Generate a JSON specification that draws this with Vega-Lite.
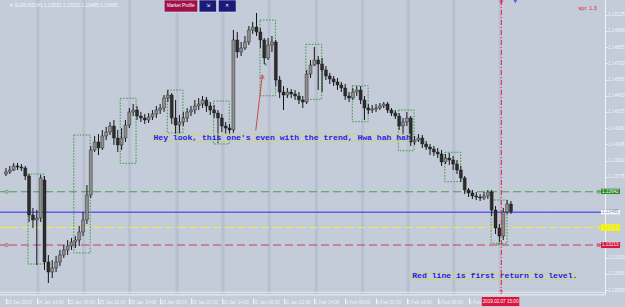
{
  "$schema": "https://vega.github.io/schema/vega-lite/v6.json",
  "width": 605,
  "height": 294,
  "autosize": "none",
  "padding": {"left": 0, "top": 0, "right": 20, "bottom": 13},
  "background": "#c4cbd9",
  "config": {
    "view": {"stroke": null},
    "font": "Liberation Sans",
    "axis": {"titleOpacity": 0, "labelOverlap": false, "labelSeparation": 0, "labelBound": false, "labelFlush": false, "grid": false, "labelFont": "Liberation Sans", "tickCount": 40},
    "axisX": {"labelAlign": "left", "labelFontSize": 4.6, "labelColor": "#f2f4f8", "tickColor": "#f2f4f8", "tickSize": 6, "offset": 4, "domain": false, "labelPadding": -5, "labelDx": 1.5},
    "axisY": {"labelFontSize": 4.6, "labelColor": "#f2f4f8", "tickColor": "#f2f4f8", "tickSize": 2, "domainColor": "#f2f4f8", "labelPadding": 0.5}
  },
  "datasets": {
    "bands": [
      {"b": 15.8, "e": 17.4}, {"b": 39.6, "e": 41.2}, {"b": 63.4, "e": 65.0}, {"b": 88.0, "e": 89.6},
      {"b": 111.8, "e": 113.4}, {"b": 135.8, "e": 137.4}, {"b": 160.2, "e": 161.8}, {"b": 184.2, "e": 185.8},
      {"b": 207.9, "e": 209.5}, {"b": 231.6, "e": 233.2}, {"b": 255.6, "e": 257.2}
    ],
    "levels": [
      {"k": "green", "p": 1.13650, "b1": 1.13676, "b2": 1.13631, "t": "1.13642"},
      {"k": "blue", "p": 1.13480, "b1": 1.13498, "b2": 1.13462, "t": "1.13485"},
      {"k": "yellow", "p": 1.13352, "b1": 1.13381, "b2": 1.13323, "t": "1.13352"},
      {"k": "red", "p": 1.13206, "b1": 1.13231, "b2": 1.13181, "t": "1.13213"}
    ],
    "boxes": [
      {"x1": 11.4, "x2": 19.5, "y1": 1.13798, "y2": 1.13048},
      {"x1": 35.2, "x2": 43.7, "y1": 1.14123, "y2": 1.13140},
      {"x1": 59.3, "x2": 67.5, "y1": 1.14429, "y2": 1.13887},
      {"x1": 83.7, "x2": 91.8, "y1": 1.14498, "y2": 1.14140},
      {"x1": 107.7, "x2": 115.8, "y1": 1.14406, "y2": 1.14048},
      {"x1": 131.8, "x2": 139.8, "y1": 1.15081, "y2": 1.14450},
      {"x1": 155.6, "x2": 163.8, "y1": 1.14879, "y2": 1.14420},
      {"x1": 179.7, "x2": 187.9, "y1": 1.14534, "y2": 1.14234},
      {"x1": 203.6, "x2": 211.7, "y1": 1.14331, "y2": 1.13992},
      {"x1": 227.7, "x2": 235.9, "y1": 1.13979, "y2": 1.13734},
      {"x1": 251.7, "x2": 260.0, "y1": 1.13581, "y2": 1.13220}
    ],
    "candles": [
      {"i":0,"o":1.13798,"h":1.13848,"l":1.13781,"c":1.13815},
      {"i":2,"o":1.13815,"h":1.13865,"l":1.13798,"c":1.13831},
      {"i":4,"o":1.13831,"h":1.13890,"l":1.13823,"c":1.13865},
      {"i":6,"o":1.13865,"h":1.13890,"l":1.13831,"c":1.13856},
      {"i":8,"o":1.13856,"h":1.13881,"l":1.13823,"c":1.13848},
      {"i":10,"o":1.13848,"h":1.13865,"l":1.13748,"c":1.13781},
      {"i":12,"o":1.13781,"h":1.13798,"l":1.13398,"c":1.13456},
      {"i":14,"o":1.13456,"h":1.13515,"l":1.13348,"c":1.13415},
      {"i":16,"o":1.13415,"h":1.13498,"l":1.13040,"c":1.13431},
      {"i":18,"o":1.13431,"h":1.13790,"l":1.13398,"c":1.13765},
      {"i":20,"o":1.13748,"h":1.13781,"l":1.12998,"c":1.13065},
      {"i":22,"o":1.13065,"h":1.13123,"l":1.12890,"c":1.12981},
      {"i":24,"o":1.12981,"h":1.13081,"l":1.12931,"c":1.13015},
      {"i":26,"o":1.13015,"h":1.13115,"l":1.12981,"c":1.13065},
      {"i":28,"o":1.13065,"h":1.13165,"l":1.13031,"c":1.13123},
      {"i":30,"o":1.13123,"h":1.13206,"l":1.13098,"c":1.13165},
      {"i":32,"o":1.13165,"h":1.13248,"l":1.13123,"c":1.13198},
      {"i":34,"o":1.13198,"h":1.13265,"l":1.13165,"c":1.13231},
      {"i":36,"o":1.13231,"h":1.13281,"l":1.13181,"c":1.13248},
      {"i":38,"o":1.13248,"h":1.13365,"l":1.13198,"c":1.13315},
      {"i":40,"o":1.13315,"h":1.13481,"l":1.13281,"c":1.13415},
      {"i":42,"o":1.13415,"h":1.13706,"l":1.13381,"c":1.13623},
      {"i":44,"o":1.13623,"h":1.14031,"l":1.13598,"c":1.13998},
      {"i":46,"o":1.13998,"h":1.14115,"l":1.13981,"c":1.14065},
      {"i":48,"o":1.14065,"h":1.14131,"l":1.13956,"c":1.14015},
      {"i":50,"o":1.14015,"h":1.14165,"l":1.13998,"c":1.14115},
      {"i":52,"o":1.14115,"h":1.14190,"l":1.14081,"c":1.14148},
      {"i":54,"o":1.14148,"h":1.14231,"l":1.14123,"c":1.14198},
      {"i":56,"o":1.14198,"h":1.14248,"l":1.14040,"c":1.14098},
      {"i":58,"o":1.14098,"h":1.14165,"l":1.13981,"c":1.14040},
      {"i":60,"o":1.14040,"h":1.14181,"l":1.13998,"c":1.14098},
      {"i":62,"o":1.14098,"h":1.14248,"l":1.14065,"c":1.14206},
      {"i":64,"o":1.14206,"h":1.14348,"l":1.14181,"c":1.14315},
      {"i":66,"o":1.14315,"h":1.14381,"l":1.14281,"c":1.14331},
      {"i":68,"o":1.14331,"h":1.14365,"l":1.14248,"c":1.14281},
      {"i":70,"o":1.14281,"h":1.14315,"l":1.14231,"c":1.14265},
      {"i":72,"o":1.14265,"h":1.14298,"l":1.14215,"c":1.14248},
      {"i":74,"o":1.14248,"h":1.14306,"l":1.14223,"c":1.14273},
      {"i":76,"o":1.14273,"h":1.14331,"l":1.14248,"c":1.14298},
      {"i":78,"o":1.14298,"h":1.14365,"l":1.14265,"c":1.14331},
      {"i":80,"o":1.14331,"h":1.14381,"l":1.14298,"c":1.14348},
      {"i":82,"o":1.14348,"h":1.14456,"l":1.14315,"c":1.14431},
      {"i":84,"o":1.14431,"h":1.14498,"l":1.14398,"c":1.14456},
      {"i":86,"o":1.14456,"h":1.14473,"l":1.14215,"c":1.14265},
      {"i":88,"o":1.14265,"h":1.14415,"l":1.14131,"c":1.14206},
      {"i":90,"o":1.14206,"h":1.14290,"l":1.14140,"c":1.14231},
      {"i":92,"o":1.14231,"h":1.14315,"l":1.14198,"c":1.14265},
      {"i":94,"o":1.14265,"h":1.14348,"l":1.14231,"c":1.14315},
      {"i":96,"o":1.14315,"h":1.14365,"l":1.14281,"c":1.14331},
      {"i":98,"o":1.14331,"h":1.14415,"l":1.14298,"c":1.14365},
      {"i":100,"o":1.14365,"h":1.14431,"l":1.14331,"c":1.14381},
      {"i":102,"o":1.14381,"h":1.14448,"l":1.14348,"c":1.14415},
      {"i":104,"o":1.14415,"h":1.14440,"l":1.14315,"c":1.14365},
      {"i":106,"o":1.14365,"h":1.14398,"l":1.14290,"c":1.14331},
      {"i":108,"o":1.14331,"h":1.14373,"l":1.14265,"c":1.14306},
      {"i":110,"o":1.14306,"h":1.14331,"l":1.14056,"c":1.14265},
      {"i":112,"o":1.14265,"h":1.14298,"l":1.14148,"c":1.14198},
      {"i":114,"o":1.14198,"h":1.14231,"l":1.14131,"c":1.14181},
      {"i":116,"o":1.14181,"h":1.14215,"l":1.14131,"c":1.14165},
      {"i":118,"o":1.14165,"h":1.14998,"l":1.14140,"c":1.14915},
      {"i":120,"o":1.14915,"h":1.14981,"l":1.14765,"c":1.14815},
      {"i":122,"o":1.14815,"h":1.14898,"l":1.14781,"c":1.14848},
      {"i":124,"o":1.14848,"h":1.14948,"l":1.14831,"c":1.14898},
      {"i":126,"o":1.14898,"h":1.15031,"l":1.14873,"c":1.14998},
      {"i":128,"o":1.14998,"h":1.15065,"l":1.14965,"c":1.15023},
      {"i":130,"o":1.15023,"h":1.15140,"l":1.14948,"c":1.14981},
      {"i":132,"o":1.14981,"h":1.15015,"l":1.14848,"c":1.14915},
      {"i":134,"o":1.14915,"h":1.14931,"l":1.14715,"c":1.14765},
      {"i":136,"o":1.14765,"h":1.14931,"l":1.14748,"c":1.14873},
      {"i":138,"o":1.14873,"h":1.14948,"l":1.14815,"c":1.14898},
      {"i":140,"o":1.14898,"h":1.14915,"l":1.14531,"c":1.14581},
      {"i":142,"o":1.14581,"h":1.14615,"l":1.14431,"c":1.14481},
      {"i":144,"o":1.14481,"h":1.14531,"l":1.14331,"c":1.14456},
      {"i":146,"o":1.14456,"h":1.14515,"l":1.14431,"c":1.14481},
      {"i":148,"o":1.14481,"h":1.14506,"l":1.14431,"c":1.14465},
      {"i":150,"o":1.14465,"h":1.14498,"l":1.14415,"c":1.14448},
      {"i":152,"o":1.14448,"h":1.14481,"l":1.14381,"c":1.14415},
      {"i":154,"o":1.14415,"h":1.14448,"l":1.14348,"c":1.14398},
      {"i":156,"o":1.14398,"h":1.14665,"l":1.14381,"c":1.14631},
      {"i":158,"o":1.14631,"h":1.14748,"l":1.14598,"c":1.14706},
      {"i":160,"o":1.14706,"h":1.14856,"l":1.14698,"c":1.14748},
      {"i":162,"o":1.14748,"h":1.14781,"l":1.14498,"c":1.14715},
      {"i":164,"o":1.14715,"h":1.14765,"l":1.14481,"c":1.14665},
      {"i":166,"o":1.14665,"h":1.14698,"l":1.14581,"c":1.14615},
      {"i":168,"o":1.14615,"h":1.14640,"l":1.14548,"c":1.14590},
      {"i":170,"o":1.14590,"h":1.14615,"l":1.14531,"c":1.14565},
      {"i":172,"o":1.14565,"h":1.14598,"l":1.14498,"c":1.14540},
      {"i":174,"o":1.14540,"h":1.14565,"l":1.14481,"c":1.14515},
      {"i":176,"o":1.14515,"h":1.14548,"l":1.14415,"c":1.14448},
      {"i":178,"o":1.14448,"h":1.14481,"l":1.14398,"c":1.14431},
      {"i":180,"o":1.14431,"h":1.14515,"l":1.14415,"c":1.14481},
      {"i":182,"o":1.14481,"h":1.14531,"l":1.14448,"c":1.14498},
      {"i":184,"o":1.14498,"h":1.14531,"l":1.14381,"c":1.14415},
      {"i":186,"o":1.14415,"h":1.14448,"l":1.14248,"c":1.14348},
      {"i":188,"o":1.14348,"h":1.14381,"l":1.14298,"c":1.14331},
      {"i":190,"o":1.14331,"h":1.14373,"l":1.14306,"c":1.14340},
      {"i":192,"o":1.14340,"h":1.14381,"l":1.14315,"c":1.14348},
      {"i":194,"o":1.14348,"h":1.14390,"l":1.14331,"c":1.14365},
      {"i":196,"o":1.14365,"h":1.14398,"l":1.14348,"c":1.14381},
      {"i":198,"o":1.14381,"h":1.14398,"l":1.14306,"c":1.14331},
      {"i":200,"o":1.14331,"h":1.14348,"l":1.14281,"c":1.14306},
      {"i":202,"o":1.14306,"h":1.14331,"l":1.14256,"c":1.14281},
      {"i":204,"o":1.14281,"h":1.14306,"l":1.14165,"c":1.14198},
      {"i":206,"o":1.14198,"h":1.14265,"l":1.14123,"c":1.14231},
      {"i":208,"o":1.14231,"h":1.14315,"l":1.14198,"c":1.14265},
      {"i":210,"o":1.14265,"h":1.14281,"l":1.14031,"c":1.14065},
      {"i":212,"o":1.14065,"h":1.14115,"l":1.14040,"c":1.14081},
      {"i":214,"o":1.14081,"h":1.14131,"l":1.14065,"c":1.14098},
      {"i":216,"o":1.14098,"h":1.14123,"l":1.14015,"c":1.14048},
      {"i":218,"o":1.14048,"h":1.14073,"l":1.13998,"c":1.14023},
      {"i":220,"o":1.14023,"h":1.14048,"l":1.13956,"c":1.14006},
      {"i":222,"o":1.14006,"h":1.14031,"l":1.13948,"c":1.13981},
      {"i":224,"o":1.13981,"h":1.14015,"l":1.13931,"c":1.13965},
      {"i":226,"o":1.13965,"h":1.13998,"l":1.13865,"c":1.13898},
      {"i":228,"o":1.13898,"h":1.13965,"l":1.13881,"c":1.13931},
      {"i":230,"o":1.13931,"h":1.13973,"l":1.13873,"c":1.13915},
      {"i":232,"o":1.13915,"h":1.13948,"l":1.13831,"c":1.13881},
      {"i":234,"o":1.13881,"h":1.13915,"l":1.13798,"c":1.13831},
      {"i":236,"o":1.13831,"h":1.13865,"l":1.13731,"c":1.13765},
      {"i":238,"o":1.13765,"h":1.13781,"l":1.13631,"c":1.13665},
      {"i":240,"o":1.13665,"h":1.13681,"l":1.13606,"c":1.13640},
      {"i":242,"o":1.13640,"h":1.13665,"l":1.13590,"c":1.13615},
      {"i":244,"o":1.13615,"h":1.13648,"l":1.13581,"c":1.13606},
      {"i":246,"o":1.13606,"h":1.13631,"l":1.13573,"c":1.13598},
      {"i":248,"o":1.13598,"h":1.13648,"l":1.13581,"c":1.13615},
      {"i":250,"o":1.13615,"h":1.13665,"l":1.13590,"c":1.13648},
      {"i":252,"o":1.13648,"h":1.13665,"l":1.13448,"c":1.13498},
      {"i":254,"o":1.13498,"h":1.13531,"l":1.13298,"c":1.13348},
      {"i":256,"o":1.13348,"h":1.13381,"l":1.13231,"c":1.13281},
      {"i":258,"o":1.13281,"h":1.13515,"l":1.13248,"c":1.13481},
      {"i":260,"o":1.13481,"h":1.13581,"l":1.13465,"c":1.13548},
      {"i":262,"o":1.13548,"h":1.13573,"l":1.13465,"c":1.13485}
    ],
    "notes": [
      {"x1": 76.0, "x2": 209.5, "y1": 1.14131, "y2": 1.14073, "tx": 76.5, "ty": 1.14102, "t": "Hey look, this one's even with the trend, Hwa hah hah"},
      {"x1": 210.4, "x2": 295.4, "y1": 1.12975, "y2": 1.12920, "tx": 210.8, "ty": 1.12948, "t": "Red line is first return to level."}
    ],
    "arrow": [
      {"x": 129.6, "y": 1.14159},
      {"x": 133.0, "y": 1.14623}
    ],
    "buttons": [
      {"x1": 82.1, "x2": 99.5, "y1": 1.15248, "y2": 1.15148, "tx": 90.8, "ty": 1.15198, "t": "Market Profile", "k": "mp"},
      {"x1": 100.2, "x2": 109.2, "y1": 1.15248, "y2": 1.15148, "tx": 104.7, "ty": 1.15198, "t": "⇲", "k": "nav"},
      {"x1": 110.2, "x2": 119.4, "y1": 1.15248, "y2": 1.15148, "tx": 114.8, "ty": 1.15198, "t": "✕", "k": "nav"}
    ]
  },
  "layer": [
    {
      "data": {"name": "bands"},
      "mark": {"type": "rect", "color": "#b7bfd0"},
      "encoding": {
        "x": {"field": "b", "type": "quantitative", "scale": {"domain": [-0.5, 308.2], "nice": false, "zero": false},
          "axis": {"values": [0, 16, 32, 48, 64, 80, 96, 112, 128, 144, 160, 176, 192, 208, 224, 240],
            "labelExpr": "['23 Jan 2019','24 Jan 14:00','25 Jan 06:00','25 Jan 22:00','28 Jan 14:00','29 Jan 06:00','29 Jan 22:00','30 Jan 14:00','31 Jan 06:00','31 Jan 22:00','1 Feb 14:00','4 Feb 06:00','4 Feb 22:00','5 Feb 14:00','6 Feb 06:00','6 Feb 22:00','7 Feb 14:00'][round(datum.value/16)]",
            "title": null, "labelOverlap": false, "tickCount": 40}},
        "x2": {"field": "e"}
      }
    },
    {
      "data": {"name": "levels"},
      "mark": {"type": "rule", "strokeWidth": 1},
      "encoding": {
        "y": {"field": "p", "type": "quantitative", "scale": {"domain": [1.12798, 1.15248], "nice": false, "zero": false},
          "axis": {"orient": "right", "values": [1.15125, 1.1499, 1.14855, 1.1472, 1.14585, 1.1445, 1.14315, 1.1418, 1.14045, 1.1391, 1.13775, 1.131, 1.12965, 1.1283],
            "format": ".5f", "title": null, "labelOverlap": false, "tickCount": 40}},
        "color": {"condition": [{"test": "datum.k == 'green'", "value": "#4e9a50"}, {"test": "datum.k == 'blue'", "value": "#2a2aff"}, {"test": "datum.k == 'yellow'", "value": "#f0f040"}], "value": "#c4405c"},
        "strokeDash": {"condition": {"test": "datum.k == 'blue'", "value": [1, 0]}, "value": [8, 4]}
      }
    },
    {
      "data": {"name": "boxes"},
      "mark": {"type": "rect", "fill": null, "stroke": "#3a9a3a", "strokeWidth": 1, "strokeDash": [1.5, 1.5]},
      "encoding": {
        "x": {"field": "x1", "type": "quantitative"},
        "x2": {"field": "x2"},
        "y": {"field": "y1", "type": "quantitative"},
        "y2": {"field": "y2"}
      }
    },
    {
      "data": {"name": "candles"},
      "mark": {"type": "rule", "color": "#151515", "strokeWidth": 1},
      "encoding": {
        "x": {"field": "i", "type": "quantitative"},
        "y": {"field": "l", "type": "quantitative"},
        "y2": {"field": "h"}
      }
    },
    {
      "data": {"name": "candles"},
      "mark": {"type": "bar", "size": 3, "stroke": "#151515", "strokeWidth": 0.4},
      "encoding": {
        "x": {"field": "i", "type": "quantitative"},
        "y": {"field": "o", "type": "quantitative"},
        "y2": {"field": "c"},
        "color": {"condition": {"test": "datum.c >= datum.o", "value": "#8e8e8e"}, "value": "#2c2c2c"}
      }
    },
    {
      "data": {"name": "notes"},
      "mark": {"type": "rect", "fill": null, "stroke": "#d2d07a", "strokeWidth": 1, "clip": false},
      "encoding": {
        "x": {"field": "x1", "type": "quantitative"},
        "x2": {"field": "x2"},
        "y": {"field": "y1", "type": "quantitative"},
        "y2": {"field": "y2"}
      }
    },
    {
      "data": {"name": "notes"},
      "mark": {"type": "text", "align": "left", "baseline": "middle", "font": "Liberation Mono", "fontWeight": "bold", "fontSize": 8.1, "color": "#2222ee", "clip": false},
      "encoding": {
        "x": {"field": "tx", "type": "quantitative"},
        "y": {"field": "ty", "type": "quantitative"},
        "text": {"field": "t"}
      }
    },
    {
      "data": {"name": "arrow"},
      "mark": {"type": "line", "color": "#d04848", "strokeWidth": 1},
      "encoding": {
        "x": {"field": "x", "type": "quantitative"},
        "y": {"field": "y", "type": "quantitative"}
      }
    },
    {
      "data": {"values": [{"x": 133.0, "y": 1.14610}]},
      "mark": {"type": "point", "shape": "triangle-up", "size": 14, "filled": false, "color": "#d04848", "strokeWidth": 1, "angle": 7},
      "encoding": {
        "x": {"field": "x", "type": "quantitative"},
        "y": {"field": "y", "type": "quantitative"}
      }
    },
    {
      "data": {"values": [{"x": 134.7, "y": 1.14715}, {"x": 255.6, "y": 1.13215}]},
      "mark": {"type": "point", "shape": "triangle-up", "size": 10, "filled": true, "color": "#1e8e2e"},
      "encoding": {
        "x": {"field": "x", "type": "quantitative"},
        "y": {"field": "y", "type": "quantitative"}
      }
    },
    {
      "data": {"values": [{"t": 257}]},
      "mark": {"type": "rule", "color": "#e8204a", "strokeWidth": 1, "strokeDash": [5, 2, 1, 2]},
      "encoding": {
        "x": {"field": "t", "type": "quantitative"}
      }
    },
    {
      "data": {"values": [{"x": 257, "y": 1.12823, "s": "triangle-up"}, {"x": 257, "y": 1.15230, "s": "triangle-down"}]},
      "mark": {"type": "point", "size": 10, "filled": false, "color": "#e8204a", "strokeWidth": 1},
      "encoding": {
        "x": {"field": "x", "type": "quantitative"},
        "y": {"field": "y", "type": "quantitative"},
        "shape": {"field": "s", "type": "nominal", "scale": null}
      }
    },
    {
      "data": {"values": [{"x": 264.3, "y": 1.15234}]},
      "mark": {"type": "point", "shape": "triangle-down", "size": 14, "filled": true, "color": "#2233ee"},
      "encoding": {
        "x": {"field": "x", "type": "quantitative"},
        "y": {"field": "y", "type": "quantitative"}
      }
    },
    {
      "data": {"values": [
        {"x": 0.4, "p": 1.13650, "k": "green"}, {"x": 307.4, "p": 1.13650, "k": "green"},
        {"x": 0.4, "p": 1.13352, "k": "yellow"}, {"x": 307.4, "p": 1.13352, "k": "yellow"},
        {"x": 0.4, "p": 1.13206, "k": "red"}, {"x": 307.4, "p": 1.13206, "k": "red"}
      ]},
      "mark": {"type": "point", "shape": "square", "size": 7, "filled": false, "strokeWidth": 1},
      "encoding": {
        "x": {"field": "x", "type": "quantitative"},
        "y": {"field": "p", "type": "quantitative"},
        "color": {"condition": [{"test": "datum.k == 'green'", "value": "#4e9a50"}, {"test": "datum.k == 'yellow'", "value": "#e8e840"}], "value": "#c4405c"}
      }
    },
    {
      "data": {"name": "levels"},
      "mark": {"type": "rect", "clip": false},
      "encoding": {
        "x": {"datum": 308.7, "type": "quantitative"},
        "x2": {"datum": 318.6},
        "y": {"field": "b1", "type": "quantitative"},
        "y2": {"field": "b2"},
        "fill": {"condition": [{"test": "datum.k == 'green'", "value": "#2e8a2e"}, {"test": "datum.k == 'blue'", "value": "#f8f8fc"}, {"test": "datum.k == 'yellow'", "value": "#f6f600"}], "value": "#d8163e"}
      }
    },
    {
      "data": {"name": "levels"},
      "mark": {"type": "text", "align": "left", "baseline": "middle", "fontSize": 4.6, "clip": false, "dx": 1},
      "encoding": {
        "x": {"datum": 308.7, "type": "quantitative"},
        "y": {"field": "p", "type": "quantitative"},
        "text": {"field": "t"},
        "color": {"condition": [{"test": "datum.k == 'blue'", "value": "#8890a0"}, {"test": "datum.k == 'yellow'", "value": "#d8d8d8"}], "value": "#f4f4f4"}
      }
    },
    {
      "data": {"values": [{"x1": 246.9, "x2": 266.3, "y1": 1.12773, "y2": 1.12698, "tx": 256.6, "ty": 1.12735, "t": "2019.02.07 15:00"}]},
      "layer": [
        {
          "mark": {"type": "rect", "fill": "#d8163e", "clip": false},
          "encoding": {
            "x": {"field": "x1", "type": "quantitative"},
            "x2": {"field": "x2"},
            "y": {"field": "y1", "type": "quantitative"},
            "y2": {"field": "y2"}
          }
        },
        {
          "mark": {"type": "text", "fontSize": 4.6, "color": "#ffffff", "baseline": "middle", "clip": false},
          "encoding": {
            "x": {"field": "tx", "type": "quantitative"},
            "y": {"field": "ty", "type": "quantitative"},
            "text": {"field": "t"}
          }
        }
      ]
    },
    {
      "data": {"values": [{"y": 1.12812}]},
      "mark": {"type": "rule", "color": "#e4e8f0", "strokeWidth": 1, "clip": false},
      "encoding": {
        "y": {"field": "y", "type": "quantitative"}
      }
    },
    {
      "data": {"values": [{"y": 1.12790}]},
      "mark": {"type": "rule", "color": "#e4e8f0", "strokeWidth": 1.2, "clip": false},
      "encoding": {
        "y": {"field": "y", "type": "quantitative"}
      }
    },
    {
      "data": {"name": "buttons"},
      "layer": [
        {
          "mark": {"type": "rect", "stroke": "#e0e4f0", "strokeWidth": 0.6},
          "encoding": {
            "x": {"field": "x1", "type": "quantitative"},
            "x2": {"field": "x2"},
            "y": {"field": "y1", "type": "quantitative"},
            "y2": {"field": "y2"},
            "fill": {"condition": {"test": "datum.k == 'mp'", "value": "#a01048"}, "value": "#1a1a78"}
          }
        },
        {
          "mark": {"type": "text", "fontSize": 4.5, "color": "#ffffff", "baseline": "middle"},
          "encoding": {
            "x": {"field": "tx", "type": "quantitative"},
            "y": {"field": "ty", "type": "quantitative"},
            "text": {"field": "t"}
          }
        }
      ]
    },
    {
      "data": {"values": [{"x": 1.5, "y": 1.15200, "t": "▼ EURUSD,H1  1.13532 1.13532 1.13485 1.13485"}]},
      "mark": {"type": "text", "align": "left", "baseline": "middle", "fontSize": 4.8, "color": "#f4f6fa", "clip": false},
      "encoding": {
        "x": {"field": "x", "type": "quantitative"},
        "y": {"field": "y", "type": "quantitative"},
        "text": {"field": "t"}
      }
    },
    {
      "data": {"values": [{"x": 306.6, "y": 1.15184, "t": "spr: 1.3"}]},
      "mark": {"type": "text", "align": "right", "baseline": "middle", "fontSize": 5.5, "color": "#e02828", "clip": false},
      "encoding": {
        "x": {"field": "x", "type": "quantitative"},
        "y": {"field": "y", "type": "quantitative"},
        "text": {"field": "t"}
      }
    }
  ]
}
